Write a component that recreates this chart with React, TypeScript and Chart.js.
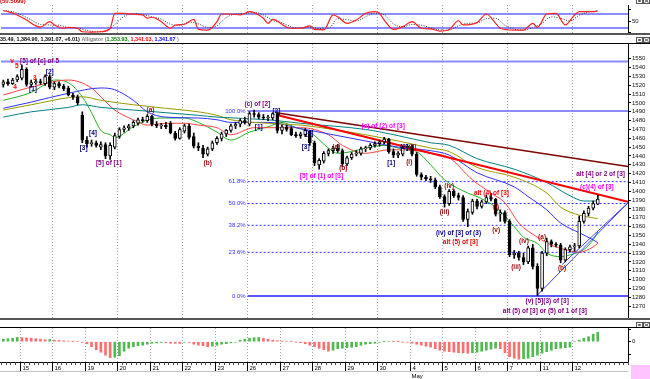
import React, { useEffect, useRef } from "react";
import { Chart, registerables } from "chart.js";

Chart.register(...registerables);

const FONT = '"Liberation Sans", Arial, sans-serif';

// ---------- x layout (bar slots) ----------
const xMin = -0.5;
const xMax = 134.5;

// ---------- day axis ----------
const dayLabels = ["15", "16", "19", "20", "21", "22", "23", "26", "27", "28", "29", "30", "4", "5", "6", "7", "11", "12"];
const firstDayBar = 4;
const barsPerDay = 7;
const monthText = "May";
const monthUnderDay = 12;

// ---------- hourly OHLC ----------
const barOpen = [
  1521, 1524, 1522, 1526, 1528, 1538, 1521, 1523, 1524, 1522,
  1530, 1518, 1522, 1519, 1517, 1509, 1507, 1486, 1458, 1454,
  1455, 1450, 1453, 1440, 1450, 1462, 1470, 1472, 1474, 1477,
  1481, 1480, 1485, 1476, 1474, 1475, 1477, 1466, 1460, 1468,
  1474, 1462, 1451, 1449, 1442, 1448, 1455, 1460, 1465, 1469,
  1474, 1476, 1480, 1476, 1488, 1487, 1484, 1483, 1483, 1488,
  1469, 1473, 1471, 1464, 1463, 1464, 1468, 1455, 1430, 1434,
  1443, 1446, 1449, 1446, 1431, 1438, 1442, 1443, 1448, 1449,
  1452, 1454, 1456, 1459, 1445, 1441, 1442, 1449, 1451, 1442,
  1419, 1416, 1414, 1413, 1405, 1394, 1386, 1400, 1395, 1393,
  1368, 1376, 1389, 1383, 1388, 1393, 1391, 1374, 1376, 1366,
  1328, 1330, 1325, 1320, 1336, 1315, 1290, 1330, 1343, 1340,
  1339, 1322, 1334, 1337, 1338, 1366, 1375, 1381, 1385.5,
];
const barHigh = [
  1526, 1527, 1528, 1532, 1543, 1540, 1526, 1527, 1527, 1532,
  1532, 1524, 1524, 1521, 1519, 1511, 1509, 1490, 1462, 1458,
  1457, 1456, 1455, 1455, 1466, 1472, 1474, 1476, 1480, 1483,
  1484, 1487, 1486, 1479, 1477, 1478, 1479, 1468, 1472, 1476,
  1476, 1466, 1455, 1452, 1450, 1457, 1462, 1467, 1470, 1476,
  1478, 1482, 1484, 1490, 1492, 1489, 1487, 1486, 1489, 1490,
  1475, 1475, 1473, 1467, 1467, 1471, 1469, 1457, 1437, 1445,
  1448, 1451, 1453, 1448, 1440, 1444, 1446, 1450, 1451, 1454,
  1456, 1458, 1461, 1460, 1448, 1445, 1451, 1453, 1453, 1444,
  1421, 1418, 1417, 1415, 1407, 1396, 1402, 1402, 1398, 1395,
  1380, 1391, 1391, 1390, 1396, 1397, 1392, 1379, 1378, 1368,
  1333, 1332, 1330, 1338, 1340, 1318, 1332, 1347, 1345, 1342,
  1341, 1336, 1339, 1341, 1372, 1378, 1383, 1389, 1395.5,
];
const barLow = [
  1518, 1520, 1521, 1524, 1526, 1519, 1518, 1521, 1521, 1520,
  1516, 1515, 1517, 1514, 1508, 1504, 1498, 1455, 1450, 1451,
  1450, 1447, 1437, 1436, 1448, 1460, 1467, 1469, 1472, 1475,
  1478, 1478, 1474, 1472, 1471, 1471, 1465, 1458, 1459, 1466,
  1459, 1449, 1446, 1438, 1440, 1446, 1453, 1457, 1462, 1467,
  1471, 1473, 1476, 1474, 1484, 1482, 1481, 1480, 1481, 1466,
  1465, 1468, 1463, 1461, 1460, 1462, 1452, 1429, 1425, 1432,
  1440, 1443, 1444, 1428, 1429, 1436, 1440, 1441, 1445, 1447,
  1450, 1451, 1454, 1443, 1438, 1438, 1440, 1446, 1440, 1417,
  1413, 1412, 1410, 1403, 1392, 1382, 1384, 1393, 1390, 1366,
  1360, 1374, 1380, 1381, 1386, 1389, 1372, 1366, 1364, 1326,
  1324, 1322, 1317, 1318, 1312, 1282, 1287, 1327, 1337, 1337,
  1319, 1320, 1331, 1332, 1336, 1364, 1372, 1379, 1384.9,
];
const barClose = [
  1524, 1522, 1526, 1530, 1538, 1521, 1523, 1524, 1523, 1530,
  1518, 1522, 1519, 1516, 1509, 1507, 1500, 1458, 1454, 1455,
  1452, 1453, 1440, 1452, 1463, 1470, 1472, 1474, 1478, 1481,
  1480, 1485, 1476, 1474, 1475, 1473, 1466, 1460, 1470, 1474,
  1461, 1451, 1449, 1442, 1448, 1455, 1460, 1465, 1469, 1474,
  1476, 1480, 1478, 1488, 1487, 1484, 1483, 1484, 1488, 1469,
  1473, 1470, 1464, 1463, 1465, 1469, 1455, 1432, 1435, 1443,
  1446, 1449, 1446, 1431, 1438, 1442, 1443, 1448, 1449, 1452,
  1454, 1456, 1459, 1445, 1441, 1443, 1449, 1451, 1442, 1419,
  1416, 1414, 1413, 1405, 1394, 1386, 1400, 1395, 1393, 1368,
  1377, 1389, 1383, 1388, 1393, 1391, 1374, 1376, 1366, 1328,
  1330, 1325, 1320, 1336, 1315, 1290, 1330, 1343, 1340, 1339,
  1322, 1334, 1337, 1338, 1366, 1375, 1381, 1386, 1391.07,
];

// ---------- Alligator + moving averages (sampled at bar index) ----------
const lipsX = [0, 6, 10, 11, 14, 17, 19, 21, 23, 24, 28, 31, 35, 39, 42, 46, 49, 53, 57, 60, 63, 66, 70, 72, 75, 78, 82, 85, 89, 92, 95, 100, 102, 106, 110, 112, 115, 117, 120, 122, 125, 127, 128];
const lipsY = [1503, 1512, 1524, 1526, 1523, 1507, 1489, 1469, 1464, 1461, 1473, 1481, 1483, 1483, 1478, 1467, 1458, 1467, 1473, 1478, 1472, 1467, 1449, 1443, 1445, 1449, 1452, 1449, 1445, 1430, 1413, 1398, 1394, 1382, 1360, 1348, 1341, 1330, 1326, 1328, 1334, 1345, 1353.93];
const teethX = [0, 6, 14, 19, 21, 24, 28, 31, 35, 39, 42, 46, 49, 54, 60, 64, 70, 73, 78, 83, 87, 92, 96, 101, 105, 108, 111, 115, 118, 121, 124, 127, 128];
const teethY = [1509, 1518, 1526, 1517, 1507, 1492, 1481, 1475, 1477, 1477, 1475, 1472, 1464, 1472, 1472, 1472, 1464, 1452, 1443, 1447, 1447, 1443, 1438, 1413, 1398, 1387, 1364, 1348, 1339, 1334, 1331, 1337, 1341.03];
const jawX = [0, 6, 14, 21, 24, 28, 31, 35, 42, 46, 49, 57, 64, 71, 78, 85, 92, 96, 102, 110, 113, 117, 120, 124, 127, 128];
const jawY = [1494, 1501, 1511, 1517, 1515, 1503, 1490, 1484, 1483, 1481, 1478, 1478, 1471, 1464, 1457, 1450, 1446, 1441, 1421, 1405, 1394, 1379, 1364, 1353, 1345, 1341.67];
const oliveX = [0, 6, 14, 17, 21, 28, 35, 42, 46, 49, 57, 64, 71, 78, 85, 92, 96, 102, 110, 117, 120, 124, 128];
const oliveY = [1492, 1498, 1506, 1507, 1503, 1498, 1494, 1490, 1486, 1481, 1477, 1475, 1470, 1464, 1457, 1449, 1445, 1427, 1416, 1398, 1382, 1373, 1369];
const tealX = [0, 6, 14, 17, 21, 28, 35, 42, 46, 57, 64, 78, 85, 92, 96, 102, 110, 117, 122, 125, 128];
const tealY = [1484, 1490, 1495, 1498, 1495, 1492, 1489, 1486, 1484, 1481, 1477, 1470, 1463, 1455, 1452, 1437, 1425, 1410, 1395, 1389, 1389];

// ---------- trend lines ----------
const maroonLineX = [59.1, 134.5];
const maroonLineY = [1488.7, 1428];
const redLineX = [58.9, 134.5];
const redLineY = [1486.4, 1388];
const wedgeLowerX = [115, 134.5];
const wedgeLowerY = [1282.5, 1387];
const wedgeUpperX = [120.3, 134.5];
const wedgeUpperY = [1317, 1387];

// ---------- Fibonacci ----------
const fibStartX = 52.6;
const fibHigh = 1491;
const fibLow = 1281.4;
const fibRatios = [1, 0.618, 0.5, 0.382, 0.236, 0];
const fibLabels = ["100.0%", "61.8%", "50.0%", "38.2%", "23.6%", "0.0%"];
const upperLevel = 1547;

// ---------- wave annotations ----------
const NAVY = "#000080", DRED = "#990000", PURP = "#800080", MAG = "#ff00ff", RED = "#ff0000";
const waveText = ["v", "[5] of [c] of 5", "5", "4", "3", "[1]", "[2]", "[3]", "[4]", "[5] of [1]", "(a)", "(b)", "(c) of [2]", "[1]", "[2]", "[3]", "[4]", "[5] of (1) of [3]", "(a)", "(b)", "(c) of (2) of [3]", "[1]", "[2]", "(ii)", "(i)", "(iii)", "(iv)", "alt (4) of [3]", "(i)", "(v)", "(iv) of [3] of (3)", "alt (5) of [3]", "(iv)", "(iii)", "(a)", "(b)", "(v) [5](3) of [3]", "alt (5) of [3] or (5) of 1 of [3]", "(c)(4) of [3]", "alt [4] or 2 of [3]"];
const waveX = [1.9, 7.8, 2.9, 2.5, 6.8, 6.4, 10.0, 17.3, 19.3, 22.7, 31.7, 44.0, 54.7, 55.0, 58.8, 65.1, 65.9, 68.5, 71.7, 73.2, 81.8, 83.5, 86.3, 88.1, 87.4, 95.0, 96.0, 105.1, 106.1, 106.1, 98.0, 98.4, 112.1, 110.4, 116.0, 120.3, 117.1, 116.6, 127.8, 128.6];
const waveY = [1547.5, 1547.5, 1542, 1518, 1528, 1515.8, 1535.1, 1449, 1466, 1432, 1492, 1432, 1499, 1473, 1491, 1450, 1466, 1417.3, 1450, 1426.4, 1473.9, 1432, 1450, 1450, 1433, 1376.5, 1406, 1398, 1382.2, 1356.2, 1352.8, 1342.6, 1343.7, 1314.3, 1348.2, 1313.1, 1275.8, 1264.4, 1404.9, 1419.6];
const waveColor = [RED, PURP, RED, RED, RED, NAVY, NAVY, NAVY, NAVY, PURP, DRED, DRED, PURP, NAVY, NAVY, NAVY, NAVY, MAG, DRED, DRED, MAG, NAVY, NAVY, DRED, DRED, DRED, DRED, RED, DRED, DRED, NAVY, RED, DRED, DRED, DRED, DRED, PURP, PURP, MAG, PURP];

// ---------- header texts ----------
const stochHeader = "(50.5099)";
const mainHeaderText = ["35.49, 1,384.90, 1,391.07, +6.01)", " Alligator (", "1,353.93,", " 1,341.03,", " 1,341.67", " )"];
const mainHeaderColor = ["#000000", "#808080", "#008000", "#ff0000", "#0000ff", "#808080"];

// ---------- stochastic ----------
const stochKX = [0, 1, 3, 5, 7, 8, 10, 11, 13, 14, 16, 17, 19, 21, 23, 24, 26, 28, 30, 31, 32, 34, 36, 37, 39, 41, 42, 44, 46, 47, 49, 51, 53, 54, 56, 57, 58, 61, 62, 64, 66, 67, 69, 71, 72, 74, 76, 78, 80, 81, 82, 84, 86, 88, 90, 92, 94, 96, 98, 99, 102, 104, 106, 107, 110, 112, 114, 115, 117, 119, 121, 123, 124, 127, 128];
const stochKY = [94, 90, 76, 54, 29, 24, 47, 33, 19, 23, 19, 4, 2, 4, 19, 83, 83, 79, 76, 62, 66, 47, 19, 33, 36, 57, 14, 11, 47, 80, 80, 76, 90, 86, 62, 40, 57, 23, 19, 19, 29, 14, 12, 76, 68, 40, 54, 83, 90, 83, 54, 14, 26, 47, 19, 16, 7, 14, 51, 33, 43, 80, 40, 19, 11, 11, 40, 23, 80, 83, 33, 76, 90, 90, 94];
const stochDX = [0, 2, 4, 6, 8, 10, 12, 14, 16, 18, 20, 22, 24, 26, 28, 30, 32, 34, 36, 38, 40, 42, 44, 46, 48, 50, 52, 54, 56, 58, 60, 62, 64, 66, 68, 70, 72, 74, 76, 78, 80, 82, 84, 86, 88, 90, 92, 94, 96, 98, 100, 102, 104, 106, 108, 110, 112, 114, 116, 118, 120, 122, 124, 126, 128];
const stochDY = [95, 90, 75, 55, 35, 33, 32, 22, 20, 10, 4, 5, 35, 70, 82, 78, 68, 58, 36, 30, 45, 38, 22, 30, 65, 80, 82, 87, 76, 52, 42, 25, 20, 23, 18, 18, 60, 56, 50, 68, 84, 76, 38, 25, 35, 32, 20, 12, 11, 30, 40, 42, 60, 62, 32, 15, 11, 22, 40, 68, 62, 50, 75, 88, 92];
const stochBands = [80, 20];

// ---------- awesome oscillator ----------
const aoValues = [
  5, 6, 7, 8.5, 8, 7.5, 7, 6, 5, 4,
  4.5, 3, 2.5, 2, 1, 0.5, 0, -1.5, -4, -10,
  -16, -21, -27, -32, -31, -28, -19, -13, -10, -8,
  -7, -5, -3, -2.5, -1.5, -2, -3, -3.2, -3.5, -1,
  -1.5, -5, -7, -8, -10, -9, -7, -5, -4, -2,
  -1, 3, 5, 7, 8, 8.5, 7, 5, 3, 2,
  1.5, 1, 0.5, -0.5, -2, -4, -7, -10, -13, -16,
  -19, -17, -14, -13, -12, -11, -10, -7, -5, -4,
  -3, -1, 0.5, 1, 0.5, 0.3, -0.5, -1, -3, -5,
  -7, -9, -11, -14, -17, -19, -20, -21, -22, -22.5,
  -23, -22, -21, -19, -17, -15, -13, -14, -22, -30,
  -33, -35, -34, -33, -30, -27, -23, -20, -17, -14,
  -13, -12, -11, 1, 3, 7, 10, 15, 19,
];

// ---------- helpers ----------
const pts = (xs: number[], ys: number[]) => xs.map((x, i) => ({ x, y: ys[i] }));

function lineSet(xs: number[], ys: number[], color: string, width: number, order: number, extra: any = {}) {
  return {
    type: "line",
    data: pts(xs, ys),
    borderColor: color,
    borderWidth: width,
    pointRadius: 0,
    fill: false,
    cubicInterpolationMode: "monotone",
    order,
    ...extra,
  };
}

function dayBoundary(k: number) {
  return firstDayBar + k * barsPerDay - 0.5;
}

function drawIcons(ctx: CanvasRenderingContext2D, y: number) {
  ctx.save();
  ctx.lineWidth = 1;
  ctx.strokeStyle = "#555";
  ctx.fillStyle = "#fff";
  [636, 643].forEach((x, j) => {
    ctx.fillRect(x + 0.5, y + 0.5, 6, 5);
    ctx.strokeRect(x + 0.5, y + 0.5, 6, 5);
    ctx.beginPath();
    if (j === 0) {
      ctx.rect(x + 2.5, y + 2.5, 2, 1);
    } else {
      ctx.moveTo(x + 1.5, y + 1.5); ctx.lineTo(x + 5.5, y + 4.5);
      ctx.moveTo(x + 5.5, y + 1.5); ctx.lineTo(x + 1.5, y + 4.5);
    }
    ctx.stroke();
  });
  ctx.restore();
}

function drawVGrid(chart: any, every: number) {
  const { ctx, chartArea: a, scales } = chart;
  const x = scales.x;
  ctx.save();
  ctx.strokeStyle = "#a0a0a0";
  ctx.lineWidth = 1;
  ctx.setLineDash([1, 2]);
  for (let k = every === 2 ? 1 : 0; k < dayLabels.length; k += every) {
    const px = Math.round(x.getPixelForValue(dayBoundary(k))) + 0.5;
    ctx.beginPath();
    ctx.moveTo(px, a.top);
    ctx.lineTo(px, a.bottom);
    ctx.stroke();
  }
  ctx.restore();
}

function rightAxis(min: number, max: number, tickValues: number[] | null, labelFn: (v: number) => string) {
  return {
    type: "linear",
    position: "right",
    min,
    max,
    afterBuildTicks: (s: any) => {
      if (tickValues) s.ticks = tickValues.map((v) => ({ value: v }));
      else s.ticks = s.ticks.filter((t: any) => Math.abs(t.value - Math.round(t.value / 10) * 10) < 1e-6 && t.value >= 1270 && t.value <= 1560);
    },
    afterFit: (s: any) => {
      s.width = 22;
      s.paddingTop = 0;
      s.paddingBottom = 0;
    },
    ticks: {
      stepSize: 10,
      autoSkip: false,
      padding: 1,
      color: "#111",
      font: { size: 6, family: FONT },
      callback: (v: any) => labelFn(Number(v)),
    },
    grid: { drawOnChartArea: false, drawTicks: true, tickLength: 3, color: "#000" },
    border: { display: true, color: "#000", width: 1 },
  };
}

const xAxis = {
  type: "linear",
  min: xMin,
  max: xMax,
  display: false,
  offset: false,
  grid: { offset: false },
  ticks: { display: false },
  afterFit: (s: any) => {
    s.paddingLeft = 0;
    s.paddingRight = 0;
  },
};

// ---------- configs ----------
function stochConfig(): any {
  return {
    type: "line",
    data: {
      datasets: [
        ...stochBands.map((b) => lineSet([xMin, xMax], [b, b], "#8c8cff", 2, 5)),
        lineSet(stochDX, stochDY, "#333333", 1, 2, { borderDash: [1, 1.5] }),
        lineSet(stochKX, stochKY, "#ff2020", 1.2, 1),
      ],
    },
    options: {
      animation: false,
      responsive: false,
      devicePixelRatio: 1,
      layout: { padding: { left: 1, right: 0, top: 5, bottom: 0 } },
      plugins: { legend: { display: false }, tooltip: { enabled: false } },
      scales: { x: xAxis, y: rightAxis(-1.4, 118.6, [0, 50, 100], (v) => (v === 50 ? "50" : "")) },
    },
    plugins: [
      {
        id: "stochDecor",
        beforeDatasetsDraw(chart: any) {
          drawVGrid(chart, 2);
        },
        afterDraw(chart: any) {
          const ctx = chart.ctx;
          ctx.save();
          ctx.font = `bold 6px ${FONT}`;
          ctx.fillStyle = "#cc0000";
          ctx.textBaseline = "middle";
          ctx.fillText(stochHeader, 0, 1.5);
          ctx.restore();
          drawIcons(ctx, -2);
        },
      },
    ],
  };
}

function mainConfig(): any {
  const wicks = barHigh.map((h, i) => ({ x: i, y: [barLow[i], h] }));
  const bodies = barOpen.map((o, i) => ({ x: i, y: [o, barClose[i]] }));
  const bodyFill = barOpen.map((o, i) => (barClose[i] >= o ? "#ffffff" : "#000000"));
  const fibLevels = fibRatios.map((r) => fibLow + r * (fibHigh - fibLow));
  const lastFib = fibLevels.length - 1;
  const fibSets = fibLevels.map((lv, i) =>
    lineSet([fibStartX, xMax], [lv, lv], i === 0 ? "#8c8cff" : i === lastFib ? "#2020ff" : "#3030ff", i === 0 ? 2 : i === lastFib ? 1.5 : 1, 9, {
      borderDash: i === 0 || i === lastFib ? [] : [2, 2],
    })
  );
  return {
    type: "bar",
    data: {
      datasets: [
        lineSet([xMin, xMax], [upperLevel, upperLevel], "#8c8cff", 2, 9),
        ...fibSets,
        lineSet(tealX, tealY, "#008080", 1, 6),
        lineSet(oliveX, oliveY, "#9a9a00", 1, 6),
        lineSet(jawX, jawY, "#3030ff", 1, 6),
        lineSet(teethX, teethY, "#ff4040", 1, 6),
        lineSet(lipsX, lipsY, "#20b020", 1, 6),
        lineSet(wedgeLowerX, wedgeLowerY, "#4040ff", 1, 4),
        lineSet(wedgeUpperX, wedgeUpperY, "#4040ff", 1, 4),
        lineSet(maroonLineX, maroonLineY, "#800000", 1.5, 3),
        lineSet(redLineX, redLineY, "#ff0000", 2, 3),
        {
          type: "bar",
          data: wicks,
          backgroundColor: "#000",
          barThickness: 1,
          grouped: false,
          order: 2,
        },
        {
          type: "bar",
          data: bodies,
          backgroundColor: bodyFill,
          borderColor: "#000",
          borderWidth: 1,
          borderSkipped: false,
          barThickness: 3,
          minBarLength: 1,
          grouped: false,
          order: 1,
        },
      ],
    },
    options: {
      animation: false,
      responsive: false,
      devicePixelRatio: 1,
      layout: { padding: { left: 1, right: 0, top: 9, bottom: 1 } },
      plugins: { legend: { display: false }, tooltip: { enabled: false } },
      scales: { x: xAxis, y: rightAxis(1256.5, 1566.8, null, (v) => String(v)) },
    },
    plugins: [
      {
        id: "mainDecor",
        beforeDatasetsDraw(chart: any) {
          drawVGrid(chart, 2);
        },
        afterDatasetsDraw(chart: any) {
          const { ctx, scales } = chart;
          const x = scales.x, y = scales.y;
          ctx.save();
          ctx.textBaseline = "middle";
          ctx.textAlign = "center";
          ctx.font = `bold 6.5px ${FONT}`;
          waveText.forEach((t, i) => {
            ctx.fillStyle = waveColor[i];
            ctx.fillText(t, x.getPixelForValue(waveX[i]), y.getPixelForValue(waveY[i]));
          });
          ctx.textAlign = "right";
          ctx.font = `6px ${FONT}`;
          ctx.fillStyle = "#3333ff";
          fibLevels.forEach((lv, i) => {
            ctx.fillText(fibLabels[i], x.getPixelForValue(fibStartX) - 2, y.getPixelForValue(lv));
          });
          ctx.restore();
        },
        afterDraw(chart: any) {
          const ctx = chart.ctx;
          ctx.save();
          ctx.font = `bold 5.4px ${FONT}`;
          ctx.textBaseline = "middle";
          let cx = 0;
          mainHeaderText.forEach((t, i) => {
            ctx.fillStyle = mainHeaderColor[i];
            ctx.fillText(t, cx, 4.5);
            cx += ctx.measureText(t).width;
          });
          ctx.restore();
          drawIcons(ctx, 2);
        },
      },
    ],
  };
}

function aoConfig(): any {
  const aoColors = aoValues.map((v, i) => (i === 0 || v >= aoValues[i - 1] ? "#4fb84f" : "#ff6e6e"));
  return {
    type: "bar",
    data: {
      datasets: [
        {
          type: "bar",
          data: aoValues.map((v, i) => ({ x: i, y: v })),
          backgroundColor: aoColors,
          barThickness: 2,
          grouped: false,
        },
      ],
    },
    options: {
      animation: false,
      responsive: false,
      devicePixelRatio: 1,
      layout: { padding: { left: 1, right: 0, top: 8, bottom: 17 } },
      plugins: { legend: { display: false }, tooltip: { enabled: false } },
      scales: { x: xAxis, y: rightAxis(-40.6, 27.4, [-25, 0, 25], (v) => (v === 0 ? "0" : "")) },
    },
    plugins: [
      {
        id: "aoDecor",
        beforeDatasetsDraw(chart: any) {
          drawVGrid(chart, 1);
        },
        afterDraw(chart: any) {
          const { ctx, chartArea: a, scales } = chart;
          const x = scales.x;
          const y0 = a.bottom;
          ctx.save();
          ctx.strokeStyle = "#000";
          ctx.lineWidth = 1;
          ctx.beginPath();
          ctx.moveTo(0, y0 + 0.5);
          ctx.lineTo(a.right, y0 + 0.5);
          ctx.stroke();
          ctx.strokeStyle = "#444";
          for (let i = 0; i <= xMax + 0.5; i++) {
            const px = Math.round(x.getPixelForValue(i - 0.5)) + 0.5;
            ctx.beginPath();
            ctx.moveTo(px, y0);
            ctx.lineTo(px, y0 + 3);
            ctx.stroke();
          }
          ctx.strokeStyle = "#000";
          ctx.font = `6px ${FONT}`;
          ctx.fillStyle = "#000";
          ctx.textBaseline = "top";
          dayLabels.forEach((lab, k) => {
            const px = Math.round(x.getPixelForValue(dayBoundary(k))) + 0.5;
            ctx.beginPath();
            ctx.moveTo(px, y0);
            ctx.lineTo(px, y0 + 9);
            ctx.stroke();
            ctx.fillText(lab, px + 2, y0 + 3);
            if (k === monthUnderDay) ctx.fillText(monthText, px + 1, y0 + 11);
          });
          ctx.strokeStyle = "#c0c0c0";
          ctx.beginPath();
          ctx.moveTo(0, y0 + 9.5);
          ctx.lineTo(a.right, y0 + 9.5);
          ctx.stroke();
          ctx.fillStyle = "#ffc4ff";
          ctx.fillRect(631, y0 + 3, 19, 14);
          ctx.restore();
          drawIcons(ctx, 2);
        },
      },
    ],
  };
}

export default function App() {
  const topRef = useRef<HTMLCanvasElement>(null);
  const mainRef = useRef<HTMLCanvasElement>(null);
  const aoRef = useRef<HTMLCanvasElement>(null);

  useEffect(() => {
    Chart.defaults.font.family = FONT;
    const charts = [
      new Chart(topRef.current as HTMLCanvasElement, stochConfig()),
      new Chart(mainRef.current as HTMLCanvasElement, mainConfig()),
      new Chart(aoRef.current as HTMLCanvasElement, aoConfig()),
    ];
    return () => charts.forEach((c) => c.destroy());
  }, []);

  const sep = (top: number, h: number, color: string) => (
    <div style={{ position: "absolute", left: 0, top, width: 650, height: h, background: color }} />
  );

  return (
    <div style={{ position: "absolute", left: 0, top: 0, width: 650, height: 379, background: "#fff", overflow: "hidden" }}>
      <canvas ref={topRef} width={650} height={33} style={{ position: "absolute", left: 0, top: 0, width: 650, height: 33 }} />
      <canvas ref={mainRef} width={650} height={284} style={{ position: "absolute", left: 0, top: 35, width: 650, height: 284 }} />
      <canvas ref={aoRef} width={650} height={59} style={{ position: "absolute", left: 0, top: 320, width: 650, height: 59 }} />
      {sep(33, 2, "#555")}
      {sep(43, 1, "#000")}
      {sep(318, 2, "#555")}
      {sep(327, 1, "#000")}
    </div>
  );
}
